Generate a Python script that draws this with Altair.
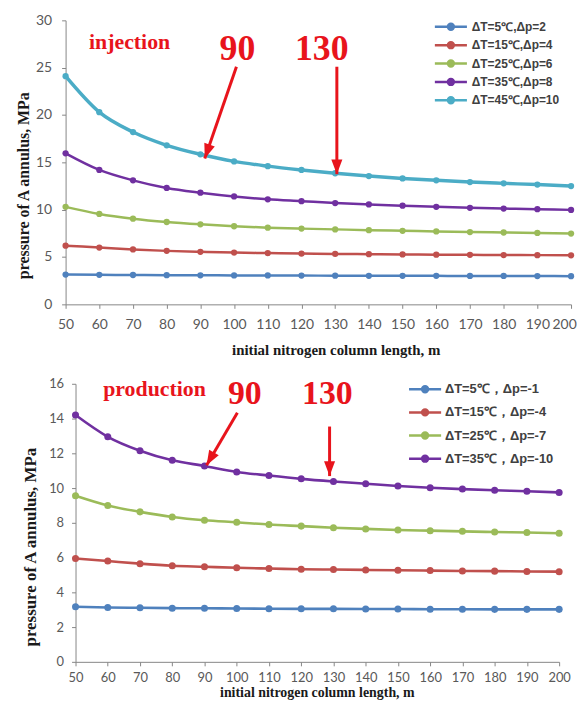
import altair as alt
import pandas as pd

# ---------------- data ----------------
length_m = [50, 60, 70, 80, 90, 100, 110, 120, 130, 140, 150, 160, 170, 180, 190, 200]

inj_labels = ["ΔT=5℃,Δp=2", "ΔT=15℃,Δp=4", "ΔT=25℃,Δp=6", "ΔT=35℃,Δp=8", "ΔT=45℃,Δp=10"]
inj_dT5 = [3.15, 3.12, 3.10, 3.08, 3.07, 3.06, 3.05, 3.04, 3.03, 3.02, 3.02, 3.01, 3.00, 3.00, 2.99, 2.98]
inj_dT15 = [6.20, 6.00, 5.80, 5.65, 5.55, 5.47, 5.42, 5.37, 5.33, 5.30, 5.27, 5.25, 5.23, 5.21, 5.20, 5.18]
inj_dT25 = [10.30, 9.55, 9.05, 8.70, 8.45, 8.25, 8.10, 8.00, 7.92, 7.84, 7.77, 7.70, 7.64, 7.59, 7.54, 7.48]
inj_dT35 = [15.95, 14.20, 13.10, 12.30, 11.80, 11.40, 11.10, 10.90, 10.70, 10.55, 10.42, 10.30, 10.20, 10.12, 10.05, 9.98]
inj_dT45 = [24.10, 20.30, 18.20, 16.80, 15.85, 15.10, 14.60, 14.20, 13.85, 13.55, 13.30, 13.10, 12.92, 12.78, 12.65, 12.50]

pro_labels = ["ΔT=5℃，Δp=-1", "ΔT=15℃，Δp=-4", "ΔT=25℃，Δp=-7", "ΔT=35℃，Δp=-10"]
pro_dT5 = [3.17, 3.13, 3.11, 3.09, 3.08, 3.07, 3.06, 3.05, 3.05, 3.04, 3.04, 3.03, 3.03, 3.02, 3.02, 3.02]
pro_dT15 = [5.95, 5.80, 5.65, 5.53, 5.47, 5.41, 5.37, 5.33, 5.31, 5.29, 5.27, 5.25, 5.23, 5.22, 5.20, 5.19]
pro_dT25 = [9.56, 9.00, 8.63, 8.34, 8.15, 8.03, 7.90, 7.81, 7.72, 7.65, 7.59, 7.55, 7.51, 7.47, 7.44, 7.40]
pro_dT35 = [14.20, 12.95, 12.15, 11.60, 11.27, 10.93, 10.72, 10.53, 10.38, 10.25, 10.12, 10.02, 9.94, 9.87, 9.82, 9.75]

inj_x_ticks = length_m
inj_y_ticks = [0, 5, 10, 15, 20, 25, 30]
pro_y_ticks = [0, 2, 4, 6, 8, 10, 12, 14, 16]

# annotations (data coordinates)
inj_note_words = ["injection"]
inj_note_x = [69]
inj_note_y = [27.0]
inj_num_words = ["90", "130"]
inj_num_x = [101, 126]
inj_num_y = [25.8, 25.8]
inj_arrow_x1 = [100.7, 130.5]
inj_arrow_y1 = [25.1, 25.1]
inj_arrow_x2 = [91.3, 130.5]
inj_arrow_y2 = [15.4, 13.75]
inj_arrow_angle = [199, 180]

pro_note_words = ["production"]
pro_note_x = [74.5]
pro_note_y = [15.3]
pro_num_words = ["90", "130"]
pro_num_x = [102.5, 128.1]
pro_num_y = [14.86, 14.86]
pro_arrow_x1 = [100.2, 128.8]
pro_arrow_y1 = [14.34, 13.54]
pro_arrow_x2 = [90.65, 128.8]
pro_arrow_y2 = [11.31, 10.69]
pro_arrow_angle = [210, 180]

inj_colors = ["#4F81BD", "#C0504D", "#9BBB59", "#7030A0", "#4BACC6"]
pro_colors = ["#4F81BD", "#C0504D", "#9BBB59", "#7030A0"]

RED = "#E8141C"
AXIS_GRAY = "#868686"
LEGEND_SYMBOL = (
    "M-1.9,0L1.9,0"
    "M0.35,0A0.35,0.35 0 1,1 -0.35,0A0.35,0.35 0 1,1 0.35,0"
    "M0.25,0A0.25,0.25 0 1,1 -0.25,0A0.25,0.25 0 1,1 0.25,0"
    "M0.15,0A0.15,0.15 0 1,1 -0.15,0A0.15,0.15 0 1,1 0.15,0"
    "M0.05,0A0.05,0.05 0 1,1 -0.05,0A0.05,0.05 0 1,1 0.05,0"
)
ARROW_HEAD = "M0,0L-0.75,2L0.75,2Z"


def long_df(labels, series):
    rows = []
    for lab, vals in zip(labels, series):
        for x, v in zip(length_m, vals):
            rows.append({"series": lab, "length": x, "pressure": v})
    return pd.DataFrame(rows)


def panel(labels, series, colors, xrange, ydomain, legend, xaxis, yaxis,
          notes, nums, arrows, point_size, thick_series=None):
    df = long_df(labels, series)
    xs = alt.Scale(domain=[50, 200], nice=False, zero=False, range=xrange)
    ys = alt.Scale(domain=ydomain, nice=False)
    cs = alt.Scale(domain=labels, range=colors)

    def X(f):
        return alt.X(f, scale=xs, axis=xaxis)

    def Y(f):
        return alt.Y(f, scale=ys, axis=yaxis)

    base = alt.Chart(df)
    if thick_series is not None:
        sw = alt.condition(alt.datum.series == thick_series, alt.value(3.5), alt.value(2.5))
    else:
        sw = alt.value(2.6)
    line = base.mark_line(interpolate="monotone").encode(
        x=X("length:Q"), y=Y("pressure:Q"),
        color=alt.Color("series:N", scale=cs, legend=legend, sort=labels),
        strokeWidth=sw,
        detail="series:N",
    )
    pts = base.mark_point(filled=True, size=point_size, opacity=1).encode(
        x=X("length:Q"), y=Y("pressure:Q"),
        color=alt.Color("series:N", scale=cs, legend=legend, sort=labels),
    )
    ndf = pd.DataFrame({"w": notes[0], "x": notes[1], "y": notes[2]})
    note = alt.Chart(ndf).mark_text(font="Liberation Serif", fontWeight="bold", fontSize=22,
                                    color=RED, align="center", baseline="alphabetic").encode(
        x=X("x:Q"), y=Y("y:Q"), text="w:N")
    mdf = pd.DataFrame({"w": nums[0], "x": nums[1], "y": nums[2]})
    num = alt.Chart(mdf).mark_text(font="Liberation Serif", fontWeight="bold", fontSize=nums[3],
                                   color=RED, align="center", baseline="alphabetic").encode(
        x=X("x:Q"), y=Y("y:Q"), text="w:N")
    adf = pd.DataFrame({"x1": arrows[0], "y1": arrows[1], "x2": arrows[2], "y2": arrows[3],
                        "ang": arrows[4]})
    shaft = alt.Chart(adf).mark_rule(color=RED, strokeWidth=3).encode(
        x=X("x1:Q"), y=Y("y1:Q"), x2="x2:Q", y2="y2:Q")
    head = alt.Chart(adf).mark_point(shape=ARROW_HEAD, size=220, filled=True, color=RED,
                                     opacity=1).encode(
        x=X("x2:Q"), y=Y("y2:Q"),
        angle=alt.Angle("ang:Q", scale=None))
    return alt.layer(line, pts, note, num, shaft, head)


axis_style = dict(domainColor=AXIS_GRAY, tickColor=AXIS_GRAY, domainWidth=1, tickWidth=1,
                  grid=False, labelColor="#595959", labelFont="Lato",
                  titleFont="Liberation Serif", titleFontWeight="bold", titleColor="#1a1a1a",
                  tickSize=4, labelOverlap=False, labelBound=False)

last_shift = {"condition": {"test": "datum.value == 200", "value": -7}, "value": 0}

top_x_axis = alt.Axis(values=inj_x_ticks, labelFontSize=14, labelPadding=9,
                      title="initial nitrogen column length, m", titleFontSize=15,
                      titleX=272, titleY=46, titleBaseline="middle", titleAlign="center",
                      labelFlush=False, labelOffset=last_shift, **axis_style)
top_y_axis = alt.Axis(values=inj_y_ticks, labelFontSize=14, labelPadding=10,
                      title="pressure of A annulus, MPa", titleFontSize=16,
                      titleX=-42, titleY=166, titleBaseline="middle", titleAlign="center",
                      **axis_style)
top_legend = alt.Legend(title=None, orient="none", legendX=378, legendY=-3.5,
                        symbolType=LEGEND_SYMBOL, symbolSize=289, symbolStrokeWidth=2.5,
                        labelFont="Liberation Sans", labelFontWeight="bold", labelFontSize=12,
                        labelColor="#404040", labelOffset=11, rowPadding=0.5, padding=0,
                        symbolOpacity=1, labelLimit=300)

bot_x_axis = alt.Axis(values=inj_x_ticks, labelFontSize=13, labelPadding=6,
                      title="initial nitrogen column length, m", titleFontSize=14,
                      titleX=253, titleY=31, titleBaseline="middle", titleAlign="center",
                      labelFlush=False, **axis_style)
bot_y_axis = alt.Axis(values=pro_y_ticks, labelFontSize=13, labelPadding=8, offset=-10,
                      title="pressure of A annulus, MPa", titleFontSize=17,
                      titleX=-45, titleY=164, titleBaseline="middle", titleAlign="center",
                      **axis_style)
bot_legend = alt.Legend(title=None, orient="none", legendX=352, legendY=-4.5,
                        symbolType=LEGEND_SYMBOL, symbolSize=289, symbolStrokeWidth=2.5,
                        labelFont="Liberation Sans", labelFontWeight="bold", labelFontSize=13,
                        labelColor="#404040", labelOffset=10, rowPadding=5.3, padding=0,
                        symbolOpacity=1, labelLimit=300)

top = panel(inj_labels, [inj_dT5, inj_dT15, inj_dT25, inj_dT35, inj_dT45], inj_colors,
            [0, 509], [0, 30], top_legend, top_x_axis, top_y_axis,
            (inj_note_words, inj_note_x, inj_note_y),
            (inj_num_words, inj_num_x, inj_num_y, 36),
            (inj_arrow_x1, inj_arrow_y1, inj_arrow_x2, inj_arrow_y2, inj_arrow_angle),
            40, thick_series=inj_labels[4]).properties(width=509, height=286)

bottom = panel(pro_labels, [pro_dT5, pro_dT15, pro_dT25, pro_dT35], pro_colors,
               [10, 497], [0, 16], bot_legend, bot_x_axis, bot_y_axis,
               (pro_note_words, pro_note_x, pro_note_y),
               (pro_num_words, pro_num_x, pro_num_y, 34),
               (pro_arrow_x1, pro_arrow_y1, pro_arrow_x2, pro_arrow_y2, pro_arrow_angle),
               50).properties(width=497, height=280)

chart = alt.vconcat(top, bottom, spacing=18).resolve_scale(
    color="independent", x="independent", y="independent"
).resolve_legend(color="independent").properties(
    padding={"left": 8, "top": 3, "right": 0, "bottom": 0},
    background="white",
).configure_view(stroke=None).configure_axis(labelOverlap=False)

chart.save("out.html", embed_options={"renderer": "svg", "actions": False})
